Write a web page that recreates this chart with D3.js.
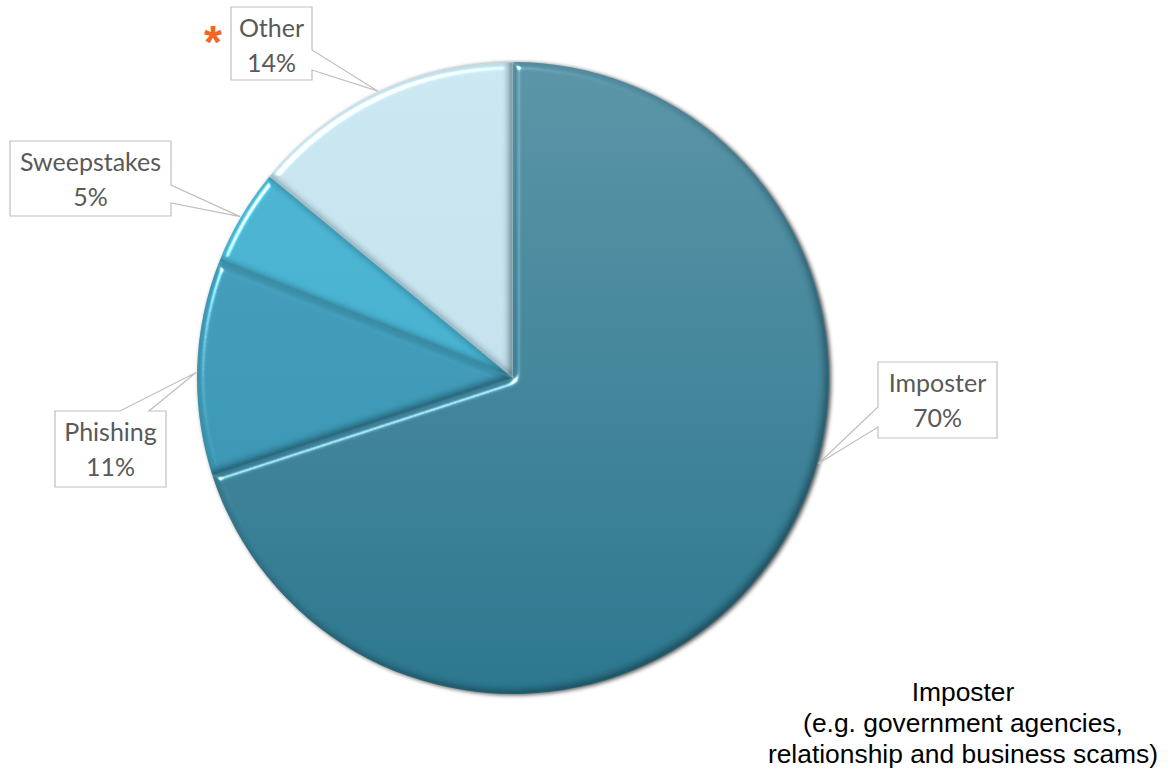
<!DOCTYPE html>
<html>
<head>
<meta charset="utf-8">
<script src="https://cdn.jsdelivr.net/npm/d3@7"></script>
<style>
  body { margin: 0; background: #fff; }
  svg { display: block; }
</style>
</head>
<body>
<script>
// data
var categories = ['Imposter', 'Phishing', 'Sweepstakes', 'Other'];
var values = [70, 11, 5, 14];
var pct_labels = ['70%', '11%', '5%', '14%'];
var top_colors = ['#5a93a6', '#4aa2be', '#4fb6d3', '#cae6f0'];
var bottom_colors = ['#2b768d', '#3390ae', '#3eaac9', '#bcdbe8'];
var caption_lines = ['Imposter', '(e.g. government agencies,', 'relationship and business scams)'];

// label boxes: [x, y, w, h], which side the pointer leaves from, pointer base offsets, angle the pointer aims at
var label_layout = [
  {box: [878, 362, 119, 76], side: 'left', base: [45, 65], aim: 105.7},
  {box: [55, 411, 111, 76], side: 'top', base: [65, 94], aim: 271},
  {box: [10, 141, 161, 75], side: 'right', base: [44, 62], aim: 300.6},
  {box: [231, 7, 81, 73], side: 'right', base: [43, 63], aim: 334.8}
];

var width = 1174, height = 772;
var cx = 513, cy = 378, radius = 316;

var svg = d3.select('body').append('svg').attr('width', width).attr('height', height);
var defs = svg.append('defs');

// vertical gradient for each slice across the pie
categories.forEach(function(c, i) {
  var g = defs.append('linearGradient').attr('id', 'grad' + i)
    .attr('gradientUnits', 'userSpaceOnUse')
    .attr('x1', 0).attr('x2', 0).attr('y1', -radius).attr('y2', radius);
  g.append('stop').attr('offset', '0%').attr('stop-color', top_colors[i]);
  g.append('stop').attr('offset', '100%').attr('stop-color', bottom_colors[i]);
});

// bevel: light from upper left, dark rim on the lower right
var bevel = defs.append('filter').attr('id', 'bevel')
  .attr('color-interpolation-filters', 'sRGB')
  .attr('x', '-10%').attr('y', '-10%').attr('width', '120%').attr('height', '120%');
bevel.append('feGaussianBlur').attr('in', 'SourceAlpha').attr('stdDeviation', 3.5).attr('result', 'blur');
var spec = bevel.append('feSpecularLighting').attr('in', 'blur').attr('surfaceScale', 6)
  .attr('specularConstant', 1.0).attr('specularExponent', 40)
  .attr('lighting-color', '#ffffff').attr('result', 'spec');
spec.append('feDistantLight').attr('azimuth', 225).attr('elevation', 35);
bevel.append('feComposite').attr('in', 'spec').attr('in2', 'SourceAlpha').attr('operator', 'in').attr('result', 'specIn');
bevel.append('feOffset').attr('in', 'blur').attr('dx', -3).attr('dy', -3).attr('result', 'off');
bevel.append('feComposite').attr('in', 'SourceAlpha').attr('in2', 'off').attr('operator', 'out').attr('result', 'rim');
bevel.append('feFlood').attr('flood-color', '#0b2630').attr('flood-opacity', 0.6).attr('result', 'dark');
bevel.append('feComposite').attr('in', 'dark').attr('in2', 'rim').attr('operator', 'in').attr('result', 'darkRim0');
bevel.append('feGaussianBlur').attr('in', 'darkRim0').attr('stdDeviation', 1).attr('result', 'darkRim1');
bevel.append('feComposite').attr('in', 'darkRim1').attr('in2', 'SourceAlpha').attr('operator', 'in').attr('result', 'darkRim');
var merge = bevel.append('feMerge').attr('result', 'shaded');
merge.append('feMergeNode').attr('in', 'SourceGraphic');
merge.append('feMergeNode').attr('in', 'darkRim');
bevel.append('feComposite').attr('in', 'shaded').attr('in2', 'specIn')
  .attr('operator', 'arithmetic').attr('k1', 0).attr('k2', 1).attr('k3', 1).attr('k4', 0);

// soft shadow behind the whole pie
var shadow = defs.append('filter').attr('id', 'shadow')
  .attr('color-interpolation-filters', 'sRGB')
  .attr('x', '-10%').attr('y', '-10%').attr('width', '120%').attr('height', '120%');
shadow.append('feDropShadow').attr('dx', 2).attr('dy', 1).attr('stdDeviation', 2)
  .attr('flood-color', '#000').attr('flood-opacity', 0.7);

var pie = d3.pie().sort(null).value(d => d);
var arcs = pie(values);
var arc_gen = d3.arc().innerRadius(0).outerRadius(radius);

var pie_group = svg.append('g').attr('transform', 'translate(' + cx + ',' + cy + ')')
  .attr('filter', 'url(#shadow)');
pie_group.selectAll('path').data(arcs).enter().append('path')
  .attr('d', arc_gen)
  .attr('fill', (d, i) => 'url(#grad' + i + ')')
  .attr('filter', 'url(#bevel)');

// callout labels
function callout_path(lay, tip) {
  var x = lay.box[0], y = lay.box[1], w = lay.box[2], h = lay.box[3];
  var b0 = lay.base[0], b1 = lay.base[1];
  var p = [];
  if (lay.side == 'right')
    p = [[x, y], [x + w, y], [x + w, y + b0], tip, [x + w, y + b1], [x + w, y + h], [x, y + h]];
  else if (lay.side == 'left')
    p = [[x, y], [x + w, y], [x + w, y + h], [x, y + h], [x, y + b1], tip, [x, y + b0]];
  else if (lay.side == 'top')
    p = [[x, y], [x + b0, y], tip, [x + b1, y], [x + w, y], [x + w, y + h], [x, y + h]];
  return 'M' + p.map(q => q[0] + ',' + q[1]).join('L') + 'Z';
}

var label_group = svg.append('g');
label_layout.forEach(function(lay, i) {
  var a = lay.aim * Math.PI / 180;
  var tip = [cx + (radius + 1) * Math.sin(a), cy - (radius + 1) * Math.cos(a)];
  label_group.append('path')
    .attr('d', callout_path(lay, tip))
    .attr('fill', '#ffffff').attr('stroke', '#bfbfbf').attr('stroke-width', 1.2);
  var tx = lay.box[0] + lay.box[2] / 2;
  label_group.append('text').attr('x', tx).attr('y', lay.box[1] + 30)
    .attr('text-anchor', 'middle').text(categories[i]);
  label_group.append('text').attr('x', tx).attr('y', lay.box[1] + 65)
    .attr('text-anchor', 'middle').text(pct_labels[i]);
});
label_group.selectAll('text')
  .attr('font-family', 'Lato, "Open Sans", sans-serif').attr('font-size', 25).attr('fill', '#595959');

// orange asterisk next to Other
svg.append('text').attr('x', 213).attr('y', 58).attr('text-anchor', 'middle')
  .attr('font-family', 'Liberation Sans, Arial, sans-serif').attr('font-size', 46).attr('font-weight', 'bold')
  .attr('fill', '#f26522').text('*');

// caption bottom right
svg.append('g').selectAll('text').data(caption_lines).enter().append('text')
  .attr('x', 963).attr('y', (d, i) => 701 + i * 31)
  .attr('text-anchor', 'middle')
  .attr('font-family', 'Liberation Sans, Arial, sans-serif').attr('font-size', 26.4).attr('fill', '#000')
  .text(d => d);
</script>
</body>
</html>
